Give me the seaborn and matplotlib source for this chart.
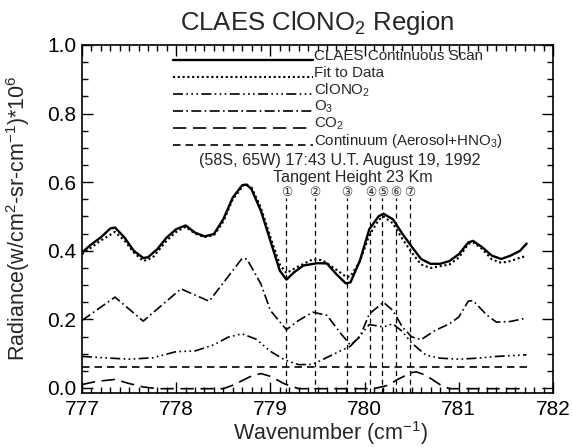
import numpy as np
import pandas as pd
import matplotlib
matplotlib.use("Agg")
import matplotlib.pyplot as plt
import seaborn as sns

# ---- spectra (radiance in W/cm^2-sr-cm^-1 * 1e6) ----
wn_scan = [777.0, 777.1, 777.2, 777.3, 777.35, 777.45, 777.55, 777.65, 777.7, 777.8,
           777.9, 778.0, 778.1, 778.2, 778.3, 778.4, 778.5, 778.6, 778.7, 778.75,
           778.8, 778.9, 779.0, 779.1, 779.17, 779.25, 779.35, 779.5, 779.6, 779.7,
           779.8, 779.85, 779.95, 780.05, 780.15, 780.2, 780.3, 780.4, 780.5, 780.6,
           780.7, 780.8, 780.9, 781.0, 781.1, 781.15, 781.25, 781.35, 781.45, 781.55,
           781.65, 781.72]
claes_scan = [0.395, 0.419, 0.439, 0.465, 0.468, 0.439, 0.400, 0.379, 0.381, 0.405,
              0.439, 0.463, 0.474, 0.453, 0.442, 0.449, 0.492, 0.555, 0.591, 0.593,
              0.579, 0.516, 0.429, 0.342, 0.316, 0.337, 0.357, 0.364, 0.363, 0.332,
              0.305, 0.308, 0.371, 0.463, 0.501, 0.508, 0.492, 0.450, 0.412, 0.376,
              0.362, 0.362, 0.370, 0.390, 0.424, 0.429, 0.410, 0.386, 0.376, 0.386,
              0.400, 0.421]

wn_fit = [777.0, 777.1, 777.2, 777.35, 777.45, 777.55, 777.65, 777.75, 777.9, 778.0,
          778.1, 778.2, 778.3, 778.4, 778.5, 778.6, 778.72, 778.8, 778.9, 779.0,
          779.1, 779.17, 779.3, 779.45, 779.55, 779.7, 779.8, 779.85, 779.95, 780.05,
          780.15, 780.2, 780.3, 780.4, 780.5, 780.6, 780.7, 780.8, 780.9, 781.0,
          781.1, 781.15, 781.25, 781.35, 781.45, 781.55, 781.65, 781.72]
fit_data = [0.390, 0.410, 0.430, 0.455, 0.430, 0.395, 0.370, 0.380, 0.430, 0.455,
            0.470, 0.450, 0.440, 0.445, 0.485, 0.550, 0.593, 0.585, 0.525, 0.440,
            0.360, 0.335, 0.355, 0.375, 0.373, 0.345, 0.325, 0.325, 0.370, 0.445,
            0.490, 0.500, 0.480, 0.435, 0.395, 0.360, 0.350, 0.355, 0.360, 0.380,
            0.420, 0.425, 0.405, 0.375, 0.365, 0.370, 0.380, 0.385]

wn_o3 = [777.0, 777.35, 777.65, 778.05, 778.35, 778.7, 778.75, 778.9, 779.0, 779.17,
         779.3, 779.45, 779.6, 779.75, 779.85, 779.95, 780.05, 780.2, 780.3, 780.4,
         780.5, 780.6, 780.75, 780.9, 781.0, 781.1, 781.15, 781.3, 781.4, 781.55,
         781.72]
o3 = [0.197, 0.265, 0.195, 0.289, 0.253, 0.378, 0.376, 0.303, 0.226, 0.170,
      0.197, 0.221, 0.212, 0.158, 0.125, 0.149, 0.216, 0.250, 0.226, 0.178,
      0.149, 0.141, 0.168, 0.187, 0.207, 0.253, 0.255, 0.212, 0.192, 0.194,
      0.204]

wn_clono2 = [777.0, 777.3, 777.5, 777.75, 778.0, 778.2, 778.4, 778.55, 778.7, 778.85,
             779.0, 779.15, 779.3, 779.45, 779.6, 779.75, 779.85, 779.95, 780.05, 780.2,
             780.3, 780.4, 780.5, 780.65, 780.8, 781.0, 781.2, 781.4, 781.6, 781.72]
clono2 = [0.092, 0.087, 0.084, 0.088, 0.106, 0.108, 0.126, 0.148, 0.158, 0.142,
          0.107, 0.082, 0.068, 0.069, 0.089, 0.109, 0.122, 0.152, 0.185, 0.178,
          0.187, 0.165, 0.131, 0.096, 0.087, 0.084, 0.087, 0.092, 0.095, 0.097]

wn_co2 = [777.0, 777.15, 777.35, 777.5, 777.65, 777.8, 778.5, 778.6, 778.8, 778.9,
          779.0, 779.15, 779.3, 780.1, 780.25, 780.35, 780.5, 780.55, 780.65, 780.8,
          780.9, 781.72]
co2 = [0.010, 0.019, 0.025, 0.013, 0.003, -0.002, -0.002, 0.008, 0.035, 0.042,
       0.034, 0.012, -0.002, -0.002, 0.008, 0.025, 0.045, 0.047, 0.037, 0.010,
       -0.002, -0.002]

wn_cont = [777.0, 781.72]
continuum = [0.062, 0.062]

# spectral features marked with numbered vertical lines
feature_wn = [779.17, 779.47, 779.81, 780.06, 780.19, 780.33, 780.48]
feature_labels = ["\u2460", "\u2461", "\u2462", "\u2463", "\u2464", "\u2465", "\u2466"]

x_ticks = [777, 778, 779, 780, 781, 782]
y_ticks = [0.0, 0.2, 0.4, 0.6, 0.8, 1.0]

# ---- styling ----
sns.set_style("ticks")
plt.rcParams["font.family"] = ["Liberation Sans", "DejaVu Sans"]
plt.rcParams["mathtext.fontset"] = "custom"
plt.rcParams["mathtext.rm"] = "Liberation Sans"
plt.rcParams["mathtext.it"] = "Liberation Sans"
plt.rcParams["mathtext.default"] = "regular"

fig = plt.figure(figsize=(5.72, 4.47), dpi=100)
# frame: 82..553 px horizontally, 45..393 px vertically
ax = fig.add_axes([82 / 572, 1 - 393 / 447, 471 / 572, 348 / 447])

series = [
    ("CLAES Continuous Scan", wn_scan, claes_scan, "-", 1.7),
    ("Fit to Data", wn_fit, fit_data, (0, (1, 1.3)), 1.5),
    ("ClONO$_2$", wn_clono2, clono2, (0, (6, 2, 1, 2, 1, 2, 1, 2)), 1.2),
    ("O$_3$", wn_o3, o3, (0, (6, 2, 1, 2)), 1.2),
    ("CO$_2$", wn_co2, co2, (0, (8, 4)), 1.2),
    ("Continuum (Aerosol+HNO$_3$)", wn_cont, continuum, (0, (4.5, 3)), 1.2),
]
for label, xs, ys, ls, lw in series:
    df = pd.DataFrame({"wavenumber": xs, "radiance": ys})
    sns.lineplot(data=df, x="wavenumber", y="radiance", ax=ax, color="black",
                 linestyle=ls, linewidth=lw, sort=False, estimator=None, legend=False)

# key: sample line ending where its label begins, on the text baseline
key_x0, key_x1 = 0.193, 0.490
key_top, key_step = 0.9555, 0.0483
for i, (label, xs, ys, ls, lw) in enumerate(series):
    yk = key_top - i * key_step
    ax.plot([key_x0, key_x1], [yk, yk], transform=ax.transAxes, color="black",
            linestyle=ls, linewidth=lw, clip_on=False)
    ax.text(key_x1 + 0.002, yk, label, transform=ax.transAxes, ha="left",
            va="baseline", fontsize=10.9)

# numbered feature markers
ax.vlines(feature_wn, -0.0146, 0.553, colors="black", linestyles=(0, (4, 3)),
          linewidth=0.9)
for wn, lab in zip(feature_wn, feature_labels):
    ax.text(wn, 0.571, lab, ha="center", va="center", fontsize=9,
            family=["DejaVu Sans"])

ax.text(779.74, 0.662, "(58S, 65W) 17:43 U.T. August 19, 1992",
        ha="center", va="center", fontsize=11.6)
ax.text(779.88, 0.614, "Tangent Height 23 Km", ha="center", va="center", fontsize=11.6)

ax.set_xlim(777, 782)
ax.set_ylim(-0.0146, 1.0)
ax.set_xticks(x_ticks)
ax.set_xticklabels([str(t) for t in x_ticks])
ax.set_yticks(y_ticks)
ax.set_yticklabels([f"{t:.1f}" for t in y_ticks])
ax.xaxis.set_minor_locator(matplotlib.ticker.MultipleLocator(0.1))
ax.yaxis.set_minor_locator(matplotlib.ticker.MultipleLocator(0.05))
ax.tick_params(which="both", direction="in", top=True, right=True, colors="black",
               width=1.0, labelsize=15)
ax.tick_params(which="major", length=8)
ax.tick_params(which="minor", length=4)
ax.tick_params(axis="x", which="major", pad=5)
ax.tick_params(axis="y", which="major", pad=4)
for sp in ax.spines.values():
    sp.set_visible(True)
    sp.set_linewidth(1.2)
    sp.set_color("black")

ax.set_xlabel("Wavenumber (cm$^{-1}$)", fontsize=15.5, va="center")
ax.xaxis.set_label_coords(0.527, -0.114)
ax.set_ylabel("Radiance(w/cm$^2$-sr-cm$^{-1}$)*10$^6$", fontsize=15.5, va="center")
ax.yaxis.set_label_coords(-0.135, 0.503)
ax.set_title("CLAES ClONO$_2$ Region", fontsize=18.5, y=1.043, pad=0)

fig.savefig("out.png", dpi=100)
